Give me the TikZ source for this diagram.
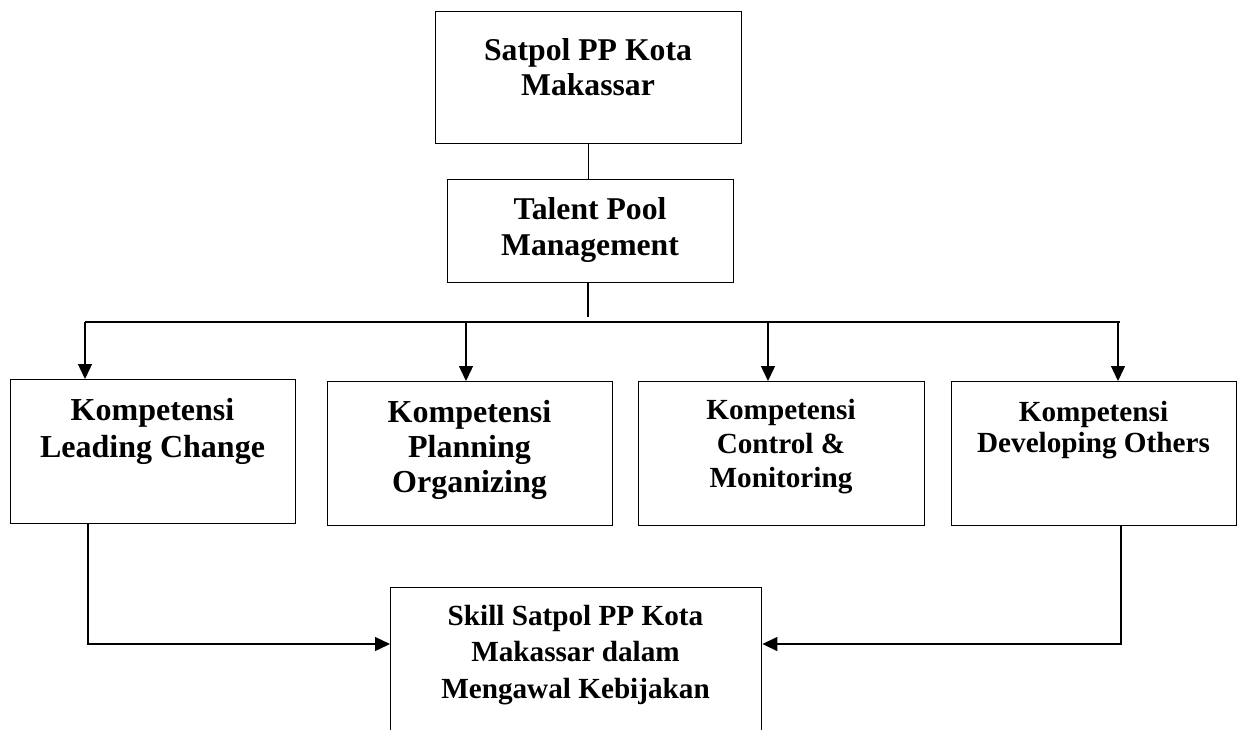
\documentclass[tikz,border=0pt]{standalone}
\usepackage{fontspec}
\setmainfont{Liberation Serif}
\usetikzlibrary{arrows.meta}
\tikzset{
  box/.style={draw, line width=1.4pt, rectangle, inner sep=0pt, anchor=north west},
  lbl/.style={anchor=base, inner sep=0pt, font=\bfseries},
  conn/.style={line width=1.4pt},
  arr/.style={conn, -{Triangle[length=15pt,width=14pt]}},
}
\setlength{\tabcolsep}{0pt}
\begin{document}
\begin{tikzpicture}[x=1pt,y=-1pt]
\useasboundingbox (0,0) rectangle (1243,729);
\clip (0,0) rectangle (1243,729);
% boxes
\node[box, minimum width=306pt, minimum height=132pt] (top) at (435,11) {};
\node[box, minimum width=286pt, minimum height=103pt] (tp) at (447,179) {};
\node[box, minimum width=285pt, minimum height=144pt] (k1) at (10,379) {};
\node[box, minimum width=285pt, minimum height=144pt] (k2) at (327,381) {};
\node[box, minimum width=286pt, minimum height=144pt] (k3) at (638,381) {};
\node[box, minimum width=285pt, minimum height=144pt] (k4) at (951,381) {};
\node[box, minimum width=371pt, minimum height=170pt] (sk) at (390,587) {};
% texts
\node[lbl] (topt) at (588,60) {\fontsize{31.7pt}{35pt}\selectfont\begin{tabular}[t]{c}Satpol PP Kota\\Makassar\end{tabular}};
\node[lbl] (tpt) at (590,219) {\fontsize{31.7pt}{36pt}\selectfont\begin{tabular}[t]{c}Talent Pool\\Management\end{tabular}};
\node[lbl] (k1t) at (152.5,420) {\fontsize{32pt}{37pt}\selectfont\begin{tabular}[t]{c}Kompetensi\\Leading Change\end{tabular}};
\node[lbl] (k2t) at (469.5,422) {\fontsize{32pt}{35pt}\selectfont\begin{tabular}[t]{c}Kompetensi\\Planning\\Organizing\end{tabular}};
\node[lbl] (k3t) at (781,419) {\fontsize{29.2pt}{34pt}\selectfont\begin{tabular}[t]{c}Kompetensi\\Control \&\\Monitoring\end{tabular}};
\node[lbl] (k4t) at (1093.5,421) {\fontsize{29.2pt}{31pt}\selectfont\begin{tabular}[t]{c}Kompetensi\\Developing Others\end{tabular}};
\node[lbl] (skt) at (575.5,625) {\fontsize{29.2pt}{36.5pt}\selectfont\begin{tabular}[t]{c}Skill Satpol PP Kota\\Makassar dalam\\Mengawal Kebijakan\end{tabular}};
% connectors
\draw[conn] (top.south) -- (top.south |- tp.north);
\coordinate (hub) at (588,317);
\draw[conn] (hub |- tp.south) -- (hub);
\coordinate (bl) at (85,322);
\coordinate (br) at (1120,322);
\draw[conn] (bl) -- (br);
\coordinate (b2) at (466,322);
\coordinate (b3) at (768,322);
\coordinate (b4) at (1118,322);
\draw[arr] (bl) -- (bl |- k1.north);
\draw[arr] (b2) -- (b2 |- k2.north);
\draw[arr] (b3) -- (b3 |- k3.north);
\draw[arr] (b4) -- (b4 |- k4.north);
\coordinate (d1) at (88,644);
\coordinate (d4) at (1121,644);
\draw[arr] (d1 |- k1.south) -- (d1) -- (d1 -| sk.west);
\draw[arr] (d4 |- k4.south) -- (d4) -- (d4 -| sk.east);
\end{tikzpicture}
\end{document}
